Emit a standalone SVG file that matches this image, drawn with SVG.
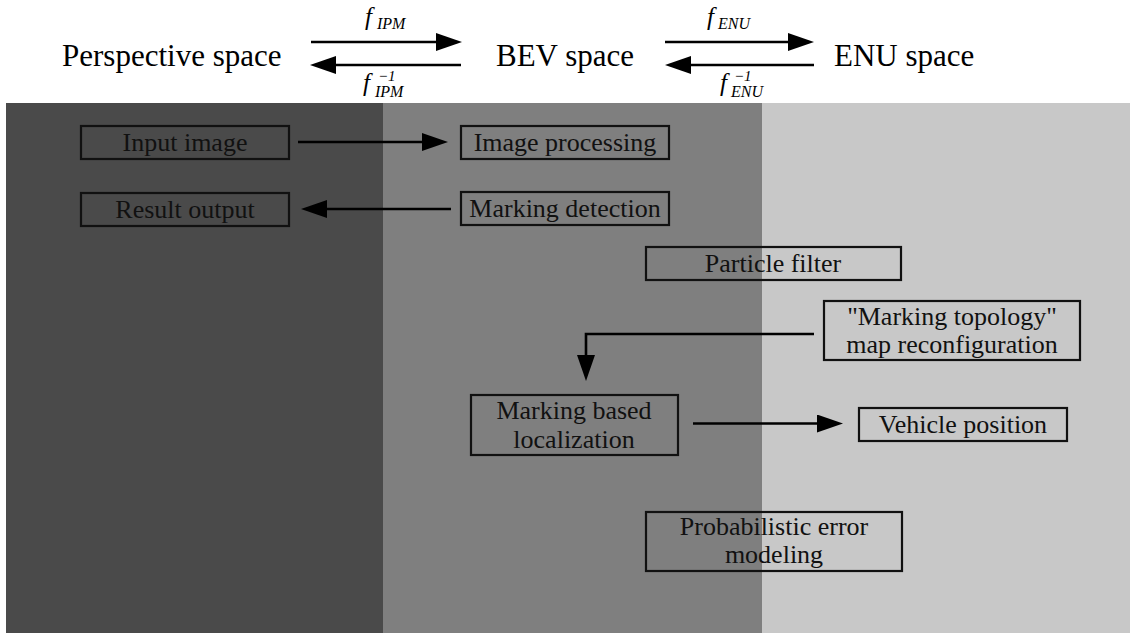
<svg xmlns="http://www.w3.org/2000/svg" width="1130" height="633" viewBox="0 0 1130 633">
<style>
.box{fill:none;stroke:#111;stroke-width:2.2}
.lbl{font-size:26px;fill:#111;text-anchor:middle}
.title{font-size:31px;fill:#000}
.m{font-style:italic;fill:#000}
.con{fill:none;stroke:#000;stroke-width:2.6}
</style>
<defs>
<marker id="ah" markerUnits="userSpaceOnUse" markerWidth="26" markerHeight="18" viewBox="0 0 26 18" refX="4" refY="9" orient="auto">
<path d="M0,0 L26,9 L0,18 Z" fill="#000"/>
</marker>
</defs>
<rect x="0" y="0" width="1130" height="633" fill="#fff"/>
<g id="panels">
<rect x="6" y="103" width="377" height="530" fill="#4a4a4a"/>
<rect x="383" y="103" width="379" height="530" fill="#7f7f7f"/>
<rect x="762" y="103" width="368" height="530" fill="#c8c8c8"/>
</g>
<g id="header" font-family="Liberation Serif">
<text class="title" font-family="Liberation Serif" x="62" y="66">Perspective space</text>
<text class="title" font-family="Liberation Serif" x="565" y="66" text-anchor="middle">BEV space</text>
<text class="title" font-family="Liberation Serif" x="834" y="66">ENU space</text>
<text class="m" font-family="Liberation Serif" x="365" y="25" font-size="25">f</text>
<text class="m" font-family="Liberation Serif" x="377" y="29" font-size="16">IPM</text>
<text class="m" font-family="Liberation Serif" x="363" y="91" font-size="25">f</text>
<text class="m" font-family="Liberation Serif" x="378" y="81" font-size="15">&#8722;1</text>
<text class="m" font-family="Liberation Serif" x="375" y="97" font-size="16">IPM</text>
<text class="m" font-family="Liberation Serif" x="707" y="25" font-size="25">f</text>
<text class="m" font-family="Liberation Serif" x="718" y="29" font-size="16">ENU</text>
<text class="m" font-family="Liberation Serif" x="720" y="91" font-size="25">f</text>
<text class="m" font-family="Liberation Serif" x="734" y="81" font-size="15">&#8722;1</text>
<text class="m" font-family="Liberation Serif" x="731" y="97" font-size="16">ENU</text>
</g>
<g id="connectors">
<path class="con" d="M311,42 L440,42" marker-end="url(#ah)"/>
<path class="con" d="M461,65 L332,65" marker-end="url(#ah)"/>
<path class="con" d="M665,42 L792,42" marker-end="url(#ah)"/>
<path class="con" d="M814,65 L687,65" marker-end="url(#ah)"/>
<path class="con" d="M298,142 L426,142" marker-end="url(#ah)"/>
<path class="con" d="M451,209 L323,209" marker-end="url(#ah)"/>
<path class="con" d="M814,334 L586,334 L586,359" marker-end="url(#ah)"/>
<path class="con" d="M693,423.5 L821,423.5" marker-end="url(#ah)"/>
</g>
<g id="nodes" font-family="Liberation Serif">
<g id="input-image">
<rect class="box" x="81" y="126" width="208" height="33"/>
<text class="lbl" font-family="Liberation Serif" x="185" y="151">Input image</text>
</g>
<g id="image-processing">
<rect class="box" x="461" y="126" width="208" height="33"/>
<text class="lbl" font-family="Liberation Serif" x="565" y="151">Image processing</text>
</g>
<g id="result-output">
<rect class="box" x="81" y="193" width="208" height="33"/>
<text class="lbl" font-family="Liberation Serif" x="185" y="218">Result output</text>
</g>
<g id="marking-detection">
<rect class="box" x="461" y="192" width="208" height="33"/>
<text class="lbl" font-family="Liberation Serif" x="565" y="217">Marking detection</text>
</g>
<g id="particle-filter">
<rect class="box" x="646" y="247" width="255" height="33"/>
<text class="lbl" font-family="Liberation Serif" x="773" y="272">Particle filter</text>
</g>
<g id="map-reconfiguration">
<rect class="box" x="824" y="301" width="256" height="59"/>
<text class="lbl" font-family="Liberation Serif" x="952" y="325">"Marking topology"</text>
<text class="lbl" font-family="Liberation Serif" x="952" y="353">map reconfiguration</text>
</g>
<g id="marking-localization">
<rect class="box" x="471" y="395" width="207" height="60"/>
<text class="lbl" font-family="Liberation Serif" x="574" y="419">Marking based</text>
<text class="lbl" font-family="Liberation Serif" x="574" y="448">localization</text>
</g>
<g id="vehicle-position">
<rect class="box" x="859" y="408" width="208" height="33"/>
<text class="lbl" font-family="Liberation Serif" x="963" y="433">Vehicle position</text>
</g>
<g id="error-modeling">
<rect class="box" x="646" y="512" width="256" height="59"/>
<text class="lbl" font-family="Liberation Serif" x="774" y="535">Probabilistic error</text>
<text class="lbl" font-family="Liberation Serif" x="774" y="563">modeling</text>
</g>
</g>
</svg>
